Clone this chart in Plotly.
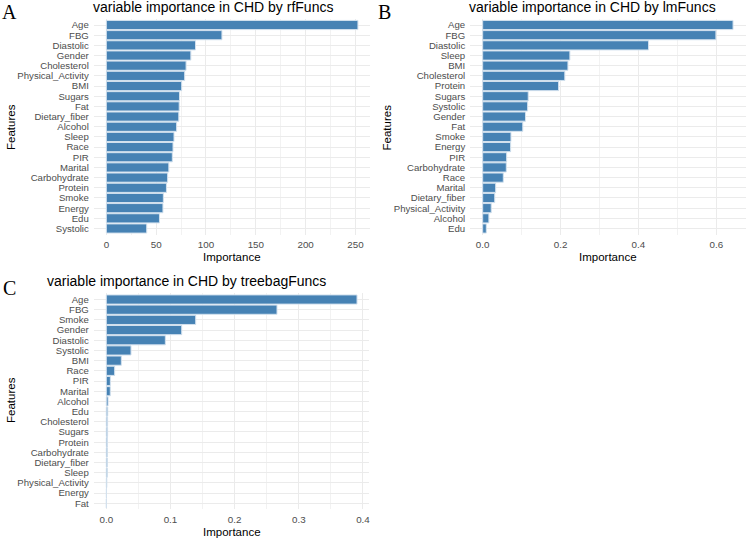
import plotly.graph_objects as go

W, H = 746, 538

featA = ["Age", "FBG", "Diastolic", "Gender", "Cholesterol", "Physical_Activity", "BMI",
         "Sugars", "Fat", "Dietary_fiber", "Alcohol", "Sleep", "Race", "PIR", "Marital",
         "Carbohydrate", "Protein", "Smoke", "Energy", "Edu", "Systolic"]
valA = [252.5, 116.0, 89.5, 84.8, 80.0, 78.6, 75.6, 73.4, 73.1, 72.7, 70.5, 67.9, 66.9,
        66.2, 62.7, 61.5, 60.3, 57.2, 56.8, 53.3, 40.5]

featB = ["Age", "FBG", "Diastolic", "Sleep", "BMI", "Cholesterol", "Protein", "Sugars",
         "Systolic", "Gender", "Fat", "Smoke", "Energy", "PIR", "Carbohydrate", "Race",
         "Marital", "Dietary_fiber", "Physical_Activity", "Alcohol", "Edu"]
valB = [0.643, 0.599, 0.426, 0.224, 0.219, 0.211, 0.195, 0.117, 0.1155, 0.110, 0.103,
        0.0727, 0.0718, 0.0616, 0.0607, 0.053, 0.0334, 0.031, 0.022, 0.016, 0.0094]

featC = ["Age", "FBG", "Smoke", "Gender", "Diastolic", "Systolic", "BMI", "Race", "PIR",
         "Marital", "Alcohol", "Edu", "Cholesterol", "Sugars", "Protein", "Carbohydrate",
         "Dietary_fiber", "Sleep", "Physical_Activity", "Energy", "Fat"]
valC = [0.3907, 0.266, 0.1393, 0.1175, 0.092, 0.0385, 0.0234, 0.013, 0.0063, 0.0062,
        0.0027, 0.0022, 0.002, 0.002, 0.0019, 0.0017, 0.0016, 0.0015, 0.0008, 0.0003, 0.0001]

titles = ["variable importance in CHD by rfFuncs",
          "variable importance in CHD by lmFuncs",
          "variable importance in CHD by treebagFuncs"]
letters = ["A", "B", "C"]

BAR = "#4682B4"
EDGE = "#D3E1EE"
GRID = "#EBEBEB"
TICK = "#4D4D4D"
FONT = "Liberation Sans, Arial, sans-serif"

fig = go.Figure()
for i, (f, v) in enumerate([(featA, valA), (featB, valB), (featC, valC)]):
    sfx = "" if i == 0 else str(i + 1)
    fig.add_trace(go.Bar(
        x=v, y=f, orientation="h", width=0.9,
        marker=dict(color=BAR, line=dict(color=EDGE, width=1)),
        xaxis="x" + sfx, yaxis="y" + sfx, showlegend=False,
    ))

def px_x(p):
    return p / W

def px_y(p):
    return 1 - p / H

panels = [
    dict(xd=(93.8, 370.0), yd=(18.9, 234.6), xr=[-12.6, 264.6], dt=50, mdt=25, fmt="d", feat=featA),
    dict(xd=(470.2, 745.5), yd=(18.9, 234.6), xr=[-0.032, 0.675], dt=0.2, mdt=0.1, fmt=".1f", feat=featB),
    dict(xd=(93.8, 369.4), yd=(293.4, 509.4), xr=[-0.0195, 0.41], dt=0.1, mdt=0.05, fmt=".1f", feat=featC),
]

layout = dict(
    width=W, height=H, margin=dict(l=0, r=0, t=0, b=0),
    paper_bgcolor="white", plot_bgcolor="white",
    font=dict(family=FONT, color=TICK, size=9.5),
    bargap=0.1,
)

for i, p in enumerate(panels):
    sfx = "" if i == 0 else str(i + 1)
    layout["xaxis" + sfx] = dict(
        domain=[px_x(p["xd"][0]), px_x(p["xd"][1])],
        anchor="y" + sfx, range=p["xr"], tick0=0, dtick=p["dt"], tickformat=p["fmt"],
        showgrid=True, gridcolor=GRID, gridwidth=1.1, zeroline=False, showline=False,
        ticks="", ticklen=0, ticklabelstandoff=3,
        tickfont=dict(family=FONT, size=9.8, color=TICK),
        minor=dict(tick0=0, dtick=p["mdt"], showgrid=True, gridcolor="#F2F2F2", gridwidth=0.7),
    )
    layout["yaxis" + sfx] = dict(
        domain=[px_y(p["yd"][1]), px_y(p["yd"][0])],
        anchor="x" + sfx, type="category", categoryorder="array", categoryarray=p["feat"],
        tickmode="linear", tick0=0, dtick=1,
        range=[20.6, -0.6], showgrid=True, gridcolor=GRID, gridwidth=1.1,
        zeroline=False, showline=False, ticks="", ticklen=0, ticklabelstandoff=4,
        tickfont=dict(family=FONT, size=9.6, color=TICK),
    )

ann = []
title_pos = [(212.5, 7), (592, 7), (186, 281)]
imp_pos = [(232, 256.5), (608, 256.5), (231.7, 531.5)]
feat_pos = [(10.5, 127.5), (386, 127.5), (10.5, 400.5)]
letter_pos = [(9.5, 0), (384, 0), (9.5, 276)]
for i in range(3):
    ann.append(dict(text=titles[i], x=px_x(title_pos[i][0]), y=px_y(title_pos[i][1]),
                    xref="paper", yref="paper", xanchor="center", yanchor="middle",
                    showarrow=False, font=dict(family=FONT, size=14, color="black")))
    ann.append(dict(text="Importance", x=px_x(imp_pos[i][0]), y=px_y(imp_pos[i][1]),
                    xref="paper", yref="paper", xanchor="center", yanchor="middle",
                    showarrow=False, font=dict(family=FONT, size=11.5, color="black")))
    ann.append(dict(text="Features", x=px_x(feat_pos[i][0]), y=px_y(feat_pos[i][1]),
                    xref="paper", yref="paper", xanchor="center", yanchor="middle",
                    textangle=-90, showarrow=False,
                    font=dict(family=FONT, size=11.5, color="black")))
    ann.append(dict(text=letters[i], x=px_x(letter_pos[i][0]), y=px_y(letter_pos[i][1]),
                    xref="paper", yref="paper", xanchor="center", yanchor="top",
                    showarrow=False, borderpad=0,
                    font=dict(family="Liberation Serif, Times New Roman, serif", size=20, color="black")))
layout["annotations"] = ann

fig.update_layout(**layout)
fig.write_html("out.html")
